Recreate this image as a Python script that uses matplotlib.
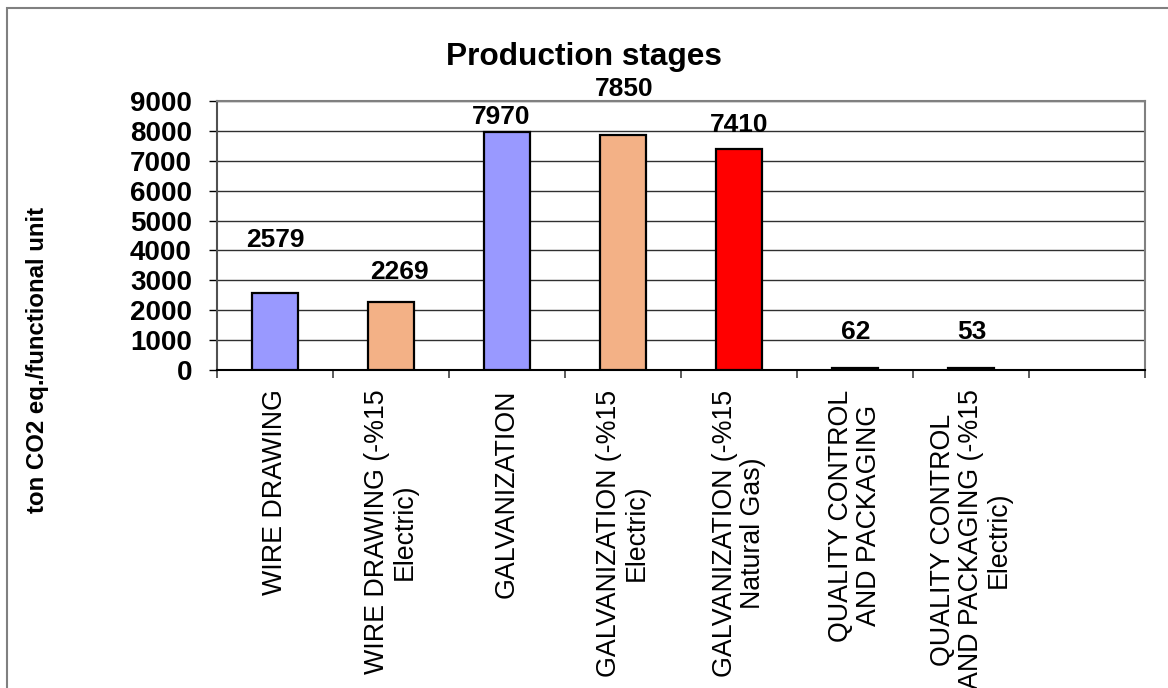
import numpy as np
import matplotlib
matplotlib.use('Agg')
import matplotlib.pyplot as plt
from matplotlib.patches import Rectangle

plt.rcParams['font.family'] = ['Liberation Sans', 'DejaVu Sans']

stages = ['WIRE DRAWING',
          'WIRE DRAWING (-%15\nElectric)',
          'GALVANIZATION',
          'GALVANIZATION (-%15\nElectric)',
          'GALVANIZATION (-%15\nNatural Gas)',
          'QUALITY CONTROL\nAND PACKAGING',
          'QUALITY CONTROL\nAND PACKAGING (-%15\nElectric)']
co2 = [2579, 2269, 7970, 7850, 7410, 62, 53]
colors = ['#9999FF', '#F3B186', '#9999FF', '#F3B186', '#FF0000', '#9999FF', '#F3B186']

# where the value labels sit relative to the bar top (pixels)
label_dx = [0, 8, -6, 1, 0, 1, 1]
label_dy = [46, 23, 8, 39, 17, 29, 29]

W, H = 1168, 688
fig = plt.figure(figsize=(W / 100, H / 100), dpi=100)
ax = fig.add_axes([217 / W, 1 - 370 / H, (1145 - 217) / W, (370 - 101) / H])

x = np.arange(len(co2))
ax.bar(x, co2, width=0.40, color=colors, edgecolor='black', linewidth=1.6, zorder=3)

for i, v in enumerate(co2):
    ax.annotate(str(v), (x[i], v), xytext=(label_dx[i], label_dy[i]),
                textcoords='offset pixels', ha='center', va='baseline',
                fontsize=19, fontweight='bold', zorder=4)

ax.set_xlim(-0.5, 7.5)
ax.set_ylim(0, 9000)
ax.set_yticks(np.arange(0, 9001, 1000))
ax.yaxis.grid(True, color='#303030', linewidth=1.0, zorder=0)
ax.set_axisbelow(True)

ax.set_xticks(x)
ax.set_xticklabels(stages, rotation=90, fontsize=19.3, linespacing=1.08)
ax.set_xticks(np.arange(-0.5, 8.0, 1.0), minor=True)
ax.tick_params(axis='x', which='major', length=0, pad=14)
ax.tick_params(axis='x', which='minor', length=6, width=1.2, direction='out', color='#404040')
ax.tick_params(axis='y', length=6, width=1.0, direction='out', pad=12, labelsize=20)
for t in ax.get_yticklabels():
    t.set_fontweight('bold')

for s in ['top', 'right', 'left']:
    ax.spines[s].set_color('#808080')
    ax.spines[s].set_linewidth(1.5)
ax.spines['left'].set_color('#505050')
ax.spines['bottom'].set_color('black')
ax.spines['bottom'].set_linewidth(1.5)

fig.text(584 / W, 1 - 65 / H, 'Production stages', ha='center', va='baseline',
         fontsize=22.8, fontweight='bold')
fig.text(37.5 / W, 1 - 360 / H, 'ton CO2 eq./functional unit', rotation=90,
         ha='center', va='center', fontsize=17.3, fontweight='bold')

# outer chart frame
fig.patches.append(Rectangle((6.5 / W, -0.05), 1.1, 1 - 8 / H + 0.05,
                             transform=fig.transFigure, fill=False,
                             edgecolor='#808080', linewidth=1.5))

fig.savefig('out.png', dpi=100)
